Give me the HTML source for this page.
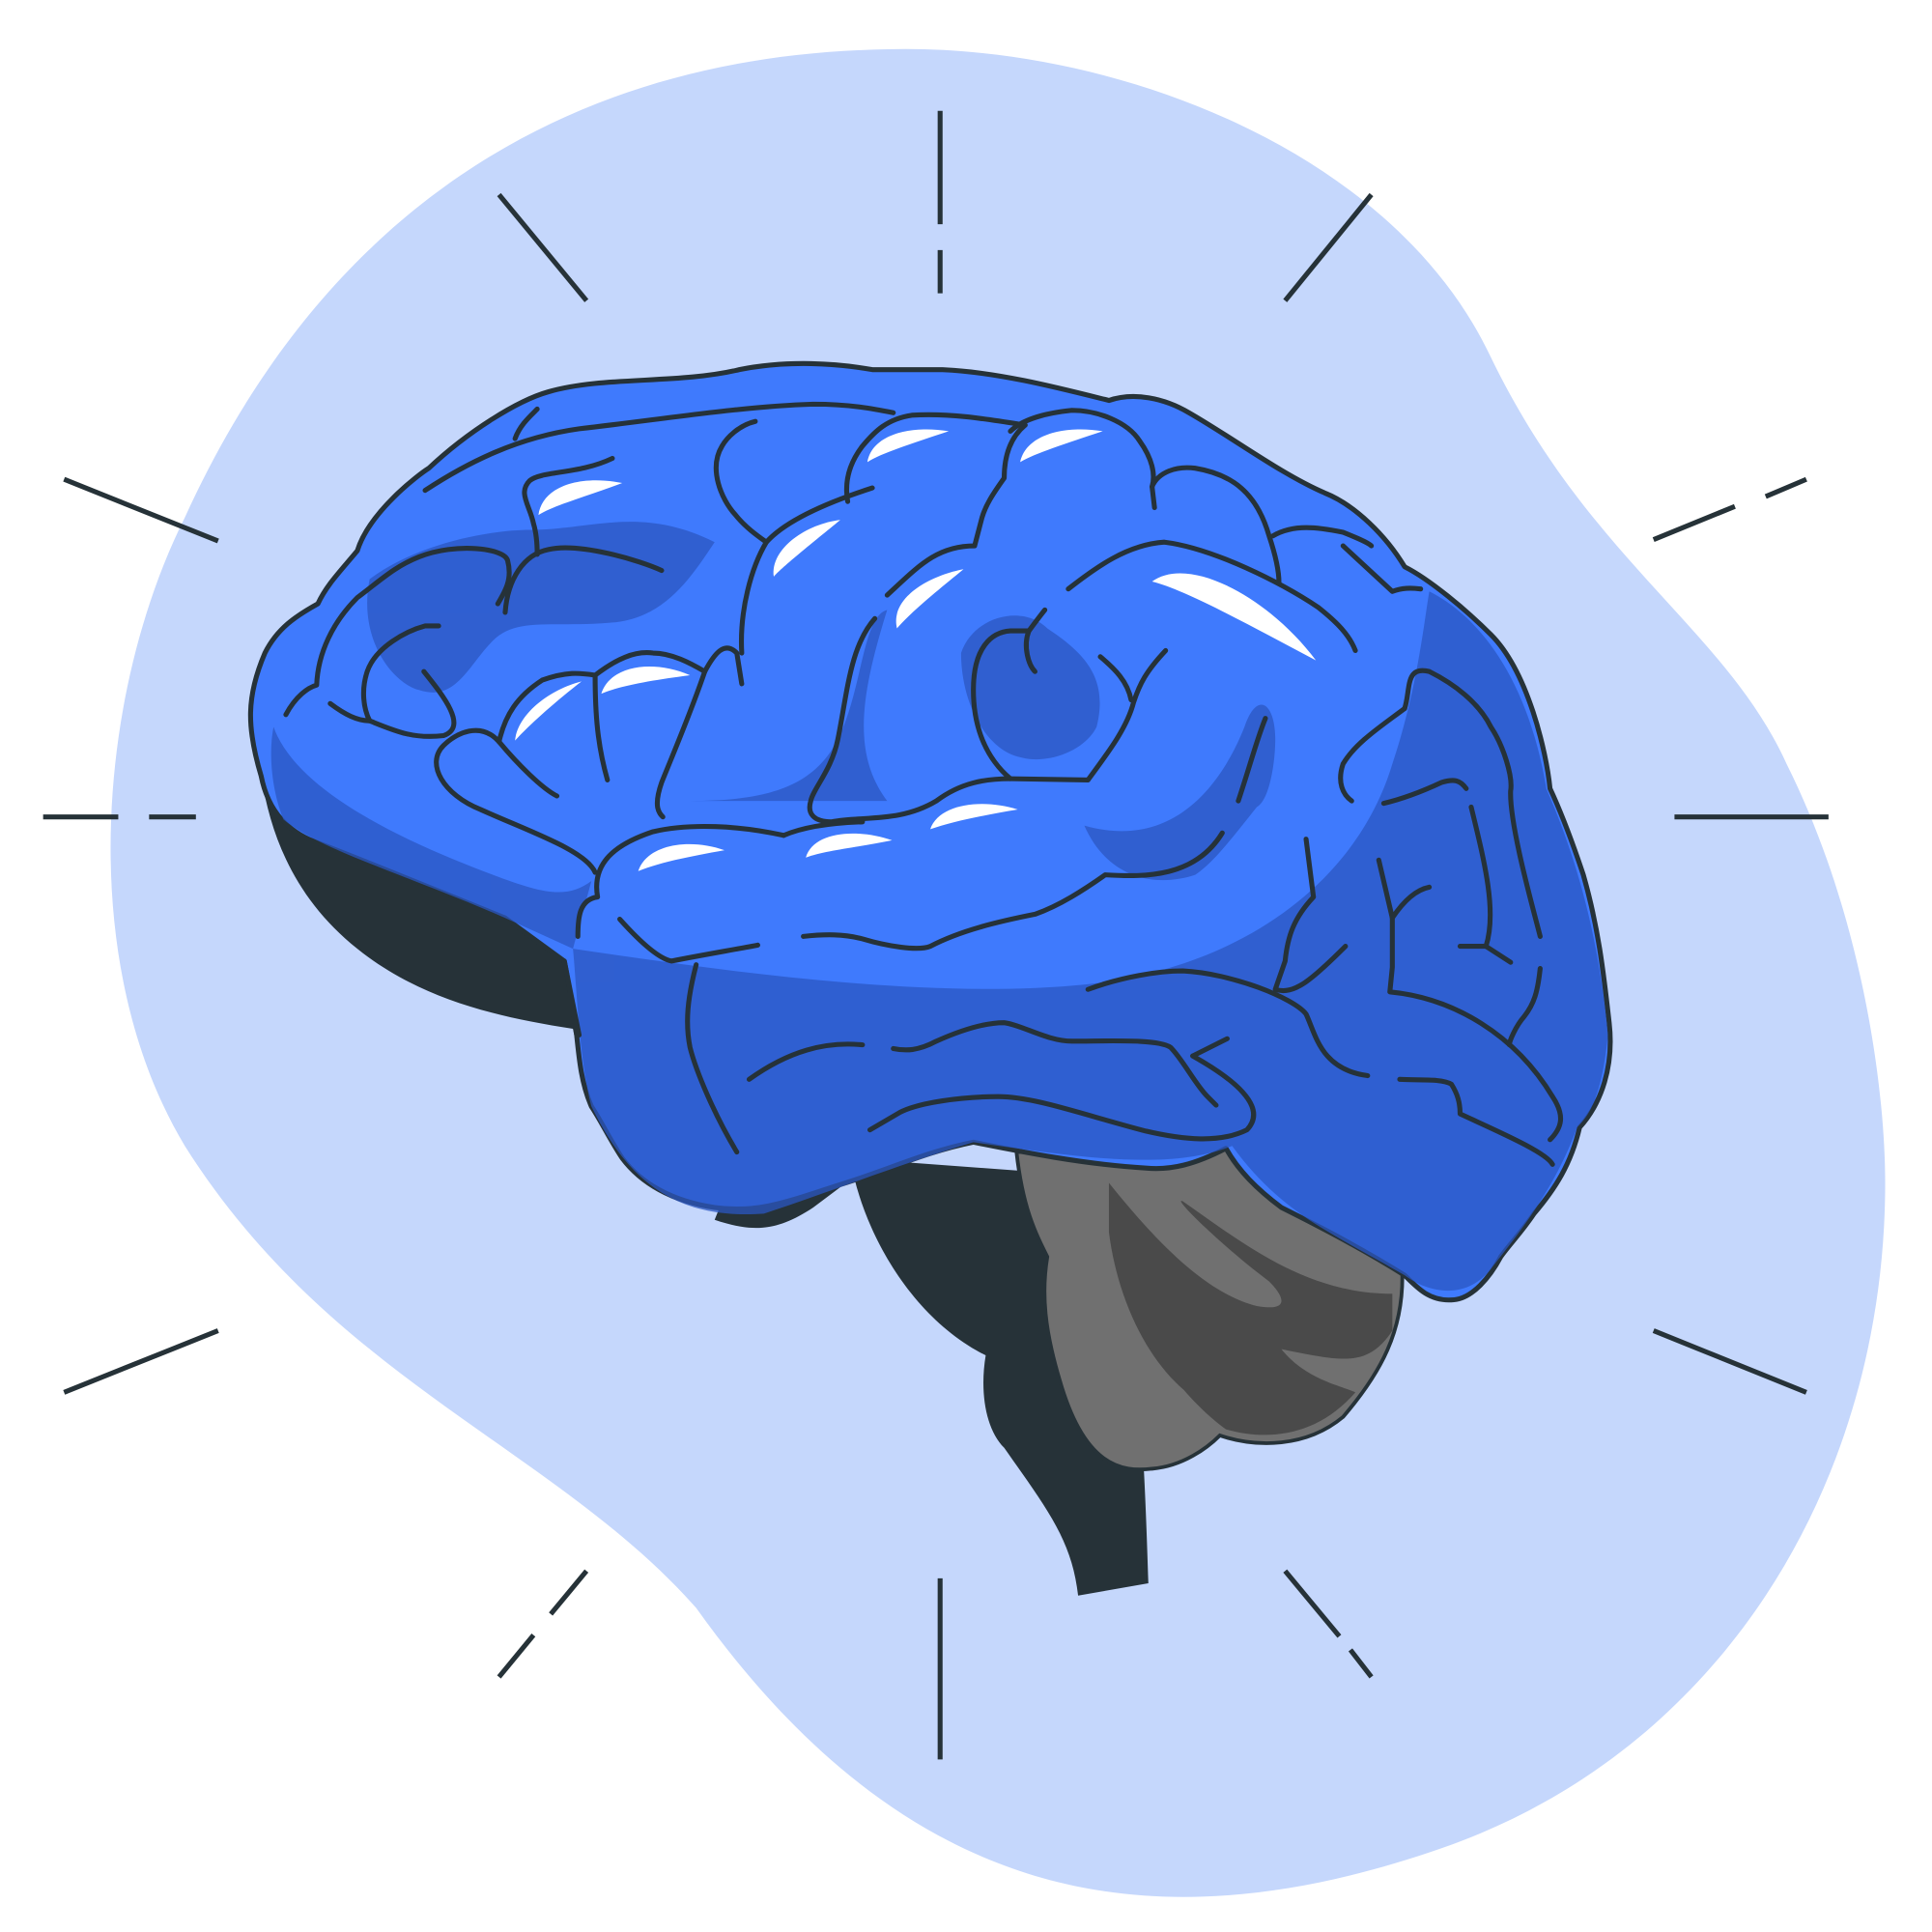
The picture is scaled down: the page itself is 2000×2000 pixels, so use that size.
<!DOCTYPE html>
<html>
<head>
<meta charset="utf-8">
<style>
html,body{margin:0;padding:0;background:#fff;}
svg{display:block;}
</style>
</head>
<body>
<svg width="2000" height="2000" viewBox="0 0 1568 1568" xmlns="http://www.w3.org/2000/svg">
  <path fill="#c5d7fc"
    d="M720,40 C900,35 1130,120 1210,290 C1290,455 1400,510 1450,620 C1510,740 1530,880 1530,960 C1530,1200 1400,1420 1170,1500 C940,1580 740,1550 565,1305 C450,1175 270,1120 150,930 C60,780 80,560 150,420 C250,200 430,45 720,40 Z"/>
  <g stroke="#263238" stroke-width="4" fill="none">
    <line x1="763" y1="90" x2="763" y2="182"/>
    <line x1="763" y1="203" x2="763" y2="238"/>
    <line x1="405" y1="158" x2="476" y2="244"/>
    <line x1="1113" y1="158" x2="1043" y2="244"/>
    <line x1="52" y1="389" x2="177" y2="439"/>
    <line x1="1342" y1="438" x2="1408" y2="411"/>
    <line x1="1433" y1="403" x2="1466" y2="389"/>
    <line x1="35" y1="663" x2="96" y2="663"/>
    <line x1="121" y1="663" x2="159" y2="663"/>
    <line x1="1359" y1="663" x2="1484" y2="663"/>
    <line x1="52" y1="1130" x2="177" y2="1080"/>
    <line x1="1342" y1="1080" x2="1466" y2="1130"/>
    <line x1="476" y1="1275" x2="447" y2="1310"/>
    <line x1="433" y1="1327" x2="405" y2="1361"/>
    <line x1="763" y1="1281" x2="763" y2="1428"/>
    <line x1="1043" y1="1275" x2="1087" y2="1328"/>
    <line x1="1096" y1="1339" x2="1113" y2="1361"/>
  </g>
  <path fill="#263238"
    d="M690,940 C700,1000 740,1070 800,1100 C795,1130 800,1160 815,1175 C850,1225 870,1250 875,1295 L932,1285 C930,1220 928,1180 925,1140 L960,960 Z"/>
  <path fill="#707070" stroke="#263238" stroke-width="3"
    d="M825,935 C830,980 840,1000 850,1020 C845,1050 848,1080 860,1120 C880,1190 910,1195 935,1192 C960,1190 980,1175 990,1165 C1020,1175 1060,1175 1090,1150 C1120,1115 1140,1080 1138,1030 L1000,930 Z"/>
  <path fill="#4a4a4a"
    d="M900,960 C940,1010 980,1050 1020,1060 C1050,1065 1040,1050 1030,1040 C990,1010 950,970 960,975 C1010,1010 1060,1050 1130,1050 L1130,1080 C1110,1110 1090,1105 1040,1095 C1060,1120 1090,1125 1100,1130 C1070,1165 1030,1170 995,1160 C960,1135 920,1080 940,1075 C970,1100 1000,1130 1030,1150 C960,1160 910,1080 900,1000 Z"/>
  <path fill="#263238"
    d="M212,630 C220,680 240,730 290,770 C340,810 400,825 465,835 L470,860 L600,940 L580,990 C610,1000 630,1000 660,980 L700,950 L460,760 C380,720 300,690 215,640 Z"/>
  <path fill="#3f7afd" stroke="#263238" stroke-width="4" stroke-linejoin="round"
    d="M212,630 C200,590 200,565 215,530 C225,510 240,500 258,490 C265,475 275,465 290,447 C300,415 340,385 348,380 C380,350 420,325 445,318 C490,305 550,312 600,300 C640,292 680,295 708,300 L765,300 C810,302 860,315 900,325 C920,318 945,323 965,335 C1000,355 1040,385 1075,400 C1100,410 1125,435 1140,460 C1160,470 1190,495 1210,515 C1240,545 1255,610 1258,640 C1265,655 1275,680 1285,710 C1298,755 1302,795 1306,830 C1310,865 1300,895 1282,915 C1275,945 1262,965 1245,985 C1235,1000 1225,1010 1218,1020 C1210,1035 1195,1055 1178,1055 C1160,1056 1150,1045 1140,1035 C1100,1010 1060,990 1040,980 C1020,965 1005,950 995,932 C970,945 950,950 930,948 C880,945 830,935 790,927 C750,935 720,950 680,962 C640,975 615,985 580,980 C545,975 520,960 505,940 C495,925 488,910 480,898 C472,880 470,860 468,840 C465,820 462,800 458,780 L410,745 C360,725 300,700 255,683 C235,675 218,660 212,630 Z"/>
  <g fill="#2b57c2" opacity="0.75">
    <path d="M465,770 C600,790 750,810 870,800 C1000,790 1100,720 1130,620 C1150,560 1155,510 1160,480 C1200,500 1240,550 1255,640 C1290,720 1300,790 1305,840 C1300,890 1290,905 1280,915 C1260,970 1225,1010 1210,1030 C1190,1055 1160,1050 1140,1035 C1080,1000 1040,985 1000,930 C950,950 880,940 790,927 C730,945 680,965 620,985 C550,990 510,960 480,898 C470,860 468,800 465,770 Z"/>
    <path d="M222,590 C240,640 320,680 400,710 C440,725 460,730 480,715 L465,770 L410,745 C330,710 260,690 230,665 C220,640 218,610 222,590 Z"/>
    <path d="M300,470 C340,440 400,430 430,430 C480,430 520,410 580,440 C560,470 540,500 500,505 C450,510 420,500 400,520 C380,540 370,570 340,560 C320,555 290,520 300,470 Z"/>
    <path d="M560,650 C620,650 660,640 680,600 C700,560 700,500 720,495 C700,560 690,610 720,650 Z"/>
    <path d="M780,530 C790,500 830,490 850,510 C880,530 900,550 890,590 C880,610 850,620 830,615 C800,610 780,570 780,530 Z"/>
    <path d="M880,670 C950,690 990,640 1010,590 C1020,560 1035,570 1035,600 C1035,620 1030,650 1020,655 C1000,680 985,700 970,710 C940,720 900,715 880,670 Z"/>
  </g>
  <g fill="#ffffff">
    <path d="M437,418 C440,395 470,385 505,392 C470,405 450,410 437,418 Z"/>
    <path d="M704,375 C708,352 740,345 770,350 C740,360 715,368 704,375 Z"/>
    <path d="M828,375 C833,352 865,345 895,350 C865,360 840,368 828,375 Z"/>
    <path d="M628,468 C625,445 655,425 682,422 C660,440 635,460 628,468 Z"/>
    <path d="M728,510 C722,485 755,467 782,462 C760,480 738,498 728,510 Z"/>
    <path d="M935,472 C965,450 1030,485 1068,536 C1010,505 960,478 935,472 Z"/>
    <path d="M418,601 C420,580 445,560 472,553 C450,570 430,588 418,601 Z"/>
    <path d="M488,563 C495,540 530,535 560,548 C530,552 505,556 488,563 Z"/>
    <path d="M518,707 C525,685 560,680 588,690 C560,695 535,700 518,707 Z"/>
    <path d="M654,696 C660,675 695,672 724,682 C695,688 670,690 654,696 Z"/>
    <path d="M755,673 C762,652 798,648 826,657 C796,662 772,667 755,673 Z"/>
  </g>
  <g fill="none" stroke="#263238" stroke-width="4" stroke-linecap="round" stroke-linejoin="round">
    <path d="M345,398 C380,375 420,355 470,348 C540,340 600,330 660,328 C690,328 710,332 725,335"/>
    <path d="M418,356 C422,345 430,338 436,332"/>
    <path d="M497,372 C470,385 440,382 430,390 C420,400 430,410 433,425 C436,435 436,445 436,450"/>
    <path d="M232,580 C240,565 250,558 257,556 C258,530 270,505 290,485 C310,470 320,460 340,452 C370,440 410,445 412,455 C416,470 410,480 404,490"/>
    <path d="M410,497 C412,470 425,450 445,446 C470,440 520,455 537,463"/>
    <path d="M268,571 C280,580 290,585 300,585 C295,575 293,560 298,545 C305,525 330,512 345,508 L356,508"/>
    <path d="M300,585 C320,593 335,600 360,597 C380,590 360,565 344,545"/>
    <path d="M483,708 C475,690 430,675 390,657 C360,645 345,620 360,605 C370,595 390,585 405,602 C420,620 440,640 452,646"/>
    <path d="M405,602 C410,580 420,565 440,552 C460,545 470,546 483,548 C500,535 515,528 530,530 C545,530 560,538 572,545 C580,530 588,520 598,530 L602,555"/>
    <path d="M483,548 C483,580 485,605 493,633"/>
    <path d="M572,545 C560,580 545,615 537,635 C530,655 535,660 538,663"/>
    <path d="M613,342 C600,345 590,355 586,362 C575,380 585,405 597,418 C605,428 615,435 622,440 C610,460 600,495 602,530"/>
    <path d="M622,440 C640,420 680,405 708,396"/>
    <path d="M688,407 C685,390 690,375 700,362 C710,350 720,340 740,337 C770,335 800,340 832,345"/>
    <path d="M832,345 C820,355 815,370 815,388 C805,402 800,410 797,420 L791,443 C760,443 745,460 720,483"/>
    <path d="M710,502 C690,525 688,560 680,600 C675,625 660,640 658,650 C655,660 660,667 675,667 C700,662 730,668 760,650 C780,635 800,632 820,632 L883,633"/>
    <path d="M820,632 C800,615 790,590 790,560 C790,525 805,513 820,512 L835,512"/>
    <path d="M835,512 C830,525 835,540 840,545"/>
    <path d="M848,495 C840,505 833,515 835,512"/>
    <path d="M820,350 C830,340 850,335 870,333 C890,333 915,342 925,358 C935,372 938,385 935,395 L937,412"/>
    <path d="M935,395 C940,383 955,378 970,380 C1000,385 1020,400 1030,435 C1035,450 1038,463 1038,473"/>
    <path d="M1033,435 C1050,425 1070,428 1090,432 C1100,436 1110,440 1113,443"/>
    <path d="M1090,443 L1130,480 C1138,477 1145,477 1153,478"/>
    <path d="M867,478 C890,460 915,442 945,440 C985,445 1040,473 1070,493 C1085,505 1095,515 1100,528"/>
    <path d="M946,528 C930,545 925,555 920,570 C915,590 900,610 883,633"/>
    <path d="M893,533 C905,543 915,553 918,568"/>
    <path d="M636,678 C600,670 560,668 530,675 C500,685 480,700 485,728 C470,730 469,745 469,760"/>
    <path d="M503,746 C520,765 535,778 545,780 C570,775 600,770 615,767"/>
    <path d="M652,760 C670,758 685,758 700,762 C720,768 745,772 755,768 C780,755 810,748 840,742 C860,735 880,722 897,710 C930,712 970,712 992,676"/>
    <path d="M636,678 C650,672 670,668 700,667"/>
    <path d="M1140,575 C1145,560 1140,540 1160,545 C1180,555 1200,570 1210,590 C1220,605 1228,630 1226,642 C1225,670 1245,740 1250,760"/>
    <path d="M1140,575 C1120,590 1100,603 1090,620 C1085,635 1090,645 1097,650"/>
    <path d="M1123,652 C1140,648 1155,642 1170,635 C1180,632 1185,633 1190,640"/>
    <path d="M1194,655 C1205,700 1215,740 1206,768 L1226,781"/>
    <path d="M1185,768 L1206,768"/>
    <path d="M1119,698 L1130,745 L1130,785 L1128,805 C1180,810 1230,840 1260,890 C1270,905 1268,915 1258,925"/>
    <path d="M1130,745 C1140,730 1150,722 1160,720"/>
    <path d="M1250,786 C1248,805 1245,815 1237,825 C1230,833 1225,845 1225,848"/>
    <path d="M1060,681 L1066,728 C1050,745 1045,760 1043,780 L1035,803 C1050,808 1065,795 1092,768"/>
    <path d="M1027,583 C1020,600 1015,620 1005,650"/>
    <path d="M883,803 C910,793 940,788 960,788 C1000,790 1050,810 1060,823 C1068,840 1072,868 1110,873"/>
    <path d="M1136,876 C1150,877 1170,875 1178,880 C1183,888 1185,895 1185,904 C1215,918 1255,935 1260,945"/>
    <path d="M608,876 C640,853 670,845 700,848"/>
    <path d="M725,851 C735,853 745,853 760,845 C780,836 800,830 815,830 C830,832 850,845 870,845 C900,845 940,843 950,850 C960,860 970,880 980,890 L987,897"/>
    <path d="M968,857 L996,843"/>
    <path d="M968,857 C1000,875 1030,898 1012,917 C990,928 960,925 930,918 C880,905 840,890 810,890 C780,890 745,895 730,903 L706,917"/>
    <path d="M565,783 C558,810 556,830 560,850 C565,870 580,905 598,935"/>
    <path d="M458,780 L470,840"/>
  </g>
</svg>
</body>
</html>
